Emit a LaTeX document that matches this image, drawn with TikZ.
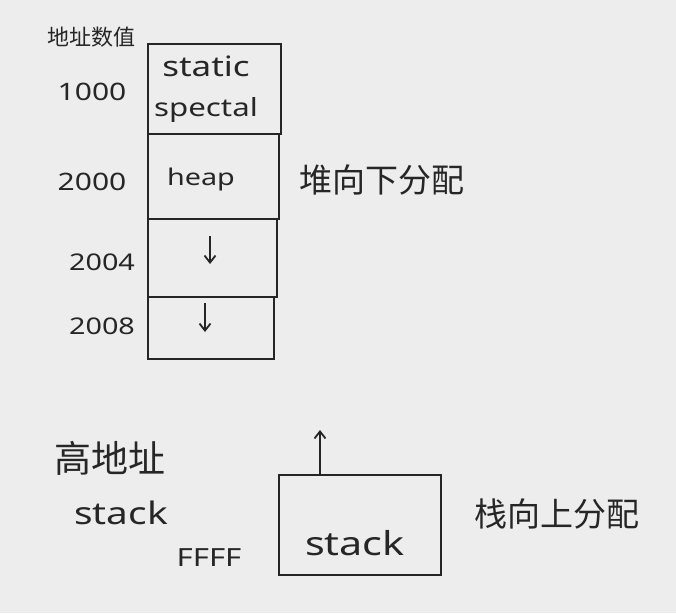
\documentclass[tikz,border=0pt]{standalone}
\usepackage{fontspec}
\setmainfont{Noto Sans CJK SC}
\newfontfamily\wide[FakeStretch=1.25]{Noto Sans}
\usetikzlibrary{arrows.meta}
\begin{document}
\begin{tikzpicture}[x=1pt,y=-1pt,
  cell/.style={draw=black!85, line width=2pt, inner sep=0pt, anchor=north west},
  lbl/.style={text=black!85, inner sep=0pt},
  arr/.style={draw=black!85, line width=1.8pt, -{Straight Barb[length=7pt,width=11pt]}}]
\fill[white!93!black] (0,0) rectangle (676,613);
\useasboundingbox (0,0) rectangle (676,613);
% memory column
\node[cell, minimum width=133pt, minimum height=90pt] (static) at (147,43) {};
\node[cell, minimum width=131pt, minimum height=85pt] (heap) at (147,133) {};
\node[cell, minimum width=129pt, minimum height=78pt] (c3) at (147,218) {};
\node[cell, minimum width=126pt, minimum height=62pt] (c4) at (147,296) {};
\node[lbl, font=\wide\fontsize{28}{30}\selectfont] (tstatic) at (206,66) {static};
\node[lbl, font=\wide\fontsize{25}{27}\selectfont] (tspecial) at (206,110) {spectal};
\node[lbl, font=\wide\fontsize{23}{25}\selectfont] (theap) at (201,180) {heap};
\coordinate (a3s) at (210,236);
\coordinate (a3e) at (210,264);
\coordinate (a4s) at (205,303);
\coordinate (a4e) at (205,332);
\draw[arr] (a3s) -- (a3e);
\draw[arr] (a4s) -- (a4e);
% addresses
\node[lbl, font=\fontsize{22}{24}\selectfont] (taddr) at (91,37) {地址数值};
\node[lbl, font=\wide\fontsize{24}{26}\selectfont] (t1000) at (92,92) {1000};
\node[lbl, font=\wide\fontsize{24}{26}\selectfont] (t2000) at (92,182) {2000};
\node[lbl, font=\wide\fontsize{23}{25}\selectfont] (t2004) at (102,262) {2004};
\node[lbl, font=\wide\fontsize{23}{25}\selectfont] (t2008) at (102,326) {2008};
\node[lbl, font=\fontsize{33}{35}\selectfont] (theapdir) at (382,180) {堆向下分配};
% stack part
\node[lbl, font=\fontsize{37}{39}\selectfont] (thigh) at (110,458) {高地址};
\node[lbl, font=\wide\fontsize{31}{33}\selectfont] (tstackl) at (121,513) {stack};
\node[lbl, font=\wide\fontsize{25}{27}\selectfont] (tffff) at (209,558) {FFFF};
\node[cell, minimum width=162pt, minimum height=100pt] (stackbox) at (278,474) {};
\node[lbl, font=\wide\fontsize{33}{35}\selectfont] (tstack) at (355,543) {stack};
\coordinate (up) at (320,430);
\draw[arr] (stackbox.north west -| up) -- (up);
\node[lbl, font=\fontsize{33}{35}\selectfont] (tstackdir) at (557,514) {栈向上分配};
\end{tikzpicture}
\end{document}
